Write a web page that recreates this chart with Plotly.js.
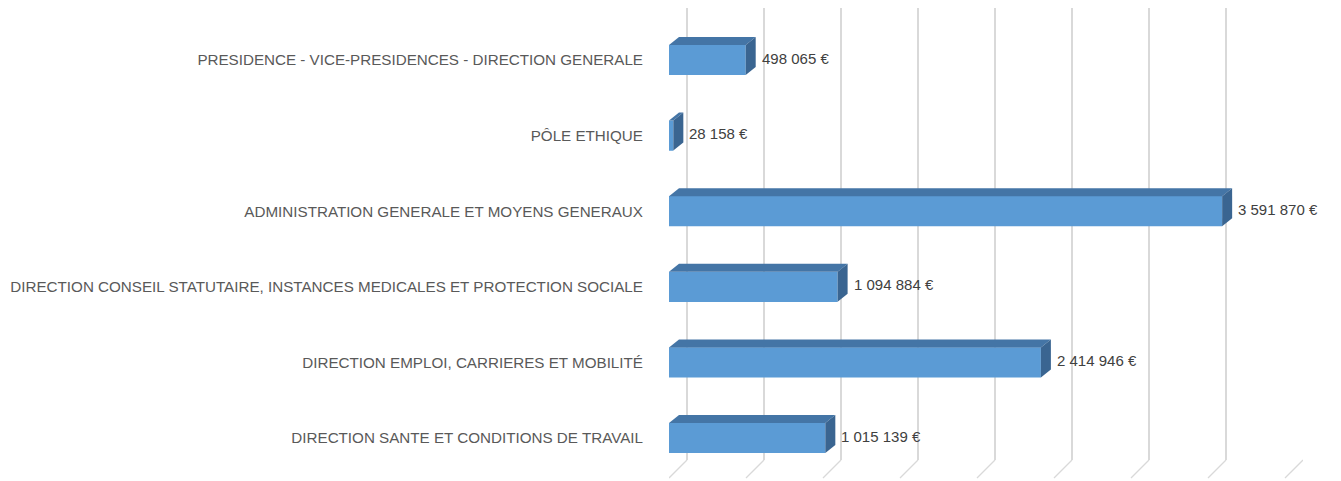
<!DOCTYPE html>
<html><head><meta charset="utf-8">
<script src="https://cdn.plot.ly/plotly-3.0.1.min.js"></script>
<style>body{margin:0;background:#fff}#c{width:1341px;height:481px}</style>
</head><body><div id="c"></div>
<script>
const categories = [
  "DIRECTION SANTE ET CONDITIONS DE TRAVAIL",
  "DIRECTION EMPLOI, CARRIERES ET MOBILITÉ",
  "DIRECTION CONSEIL STATUTAIRE, INSTANCES MEDICALES ET PROTECTION SOCIALE",
  "ADMINISTRATION GENERALE ET MOYENS GENERAUX",
  "PÔLE ETHIQUE",
  "PRESIDENCE - VICE-PRESIDENCES - DIRECTION GENERALE"
];
const values = [1015139, 2414946, 1094884, 3591870, 28158, 498065];
const valueLabels = ["1 015 139 €", "2 414 946 €", "1 094 884 €", "3 591 870 €", "28 158 €", "498 065 €"];
const gridTicks = [0, 500000, 1000000, 1500000, 2000000, 2500000, 3000000, 3500000, 4000000];

const W = 1341, H = 481;
const mL = 669, mR = 38, mT = 8, mB = 3;
const plotW = W - mL - mR, plotH = H - mT - mB;
const depthX = 18, depthY = 18;
const barDX = 10, barDY = 8, halfBar = 15;
const xMax = 4000000;
const frontW = plotW - depthX;
const unitsPerPx = xMax / frontW;

const front = '#5B9BD5', topC = '#4475A6', sideC = '#3A6591';
const gridC = '#D9D9D9';
const labelFont = 'Liberation Sans, Arial, sans-serif';

const shapes = [];
gridTicks.forEach(v => {
  shapes.push({type:'line', xref:'x', xsizemode:'pixel', xanchor: v, x0:0, x1:-depthX,
    yref:'paper', y0: depthY/plotH, y1: 0, line:{color:gridC, width:1.3}, layer:'below'});
});
categories.forEach((c, i) => {
  const v = values[i];
  const dx = barDX * unitsPerPx;
  shapes.push({type:'path', xref:'x2', yref:'y2', ysizemode:'pixel', yanchor:c,
    path:`M0,${halfBar} L${dx},${halfBar+barDY} L${v+dx},${halfBar+barDY} L${v},${halfBar} Z`,
    fillcolor: topC, line:{width:0}, layer:'above'});
  shapes.push({type:'path', xref:'x2', yref:'y2', ysizemode:'pixel', yanchor:c,
    path:`M${v},${halfBar} L${v+dx},${halfBar+barDY} L${v+dx},${-halfBar+barDY} L${v},${-halfBar} Z`,
    fillcolor: sideC, line:{width:0}, layer:'above'});
});

const annotations = categories.map((c, i) => ({
  xref:'x2', yref:'y2', x: values[i], y: c, text: valueLabels[i], showarrow:false,
  xanchor:'left', yanchor:'middle', xshift: barDX + 4, yshift: 2,
  font:{family:labelFont, size:15, color:'#404040'}
}));

const traces = [
  {type:'scatter', x:[0], y:[0], xaxis:'x', yaxis:'y', mode:'markers', marker:{opacity:0}, hoverinfo:'skip', showlegend:false},
  {type:'bar', orientation:'h', x: values, y: categories, xaxis:'x2', yaxis:'y2', width:0.4,
   marker:{color: front, line:{width:0}}, showlegend:false, hoverinfo:'skip'}
];

const step = 75.6, bottomCenter = 438;
const y2bottomPx = bottomCenter + step/2, y2topPx = bottomCenter - 5.5*step;
const y2dom = [(H - mB - y2bottomPx)/plotH, (H - mB - y2topPx)/plotH];

const layout = {
  width: W, height: H,
  margin:{l:mL, r:mR, t:mT, b:mB, pad:0},
  paper_bgcolor:'#fff', plot_bgcolor:'rgba(0,0,0,0)',
  showlegend:false,
  xaxis:{domain:[0, 1], range:[-depthX*unitsPerPx, xMax], tickvals:gridTicks, showgrid:true,
    gridcolor:gridC, gridwidth:1.3, showticklabels:false, zeroline:false,
    showline:false, ticks:'', fixedrange:true},
  yaxis:{domain:[depthY/plotH, 1], range:[0,1], visible:false, fixedrange:true},
  xaxis2:{domain:[0, frontW/plotW], range:[0, xMax], anchor:'y2', showgrid:false, showticklabels:false,
    zeroline:false, showline:false, ticks:''},
  yaxis2:{domain:y2dom, anchor:'x2', type:'category', categoryorder:'array', categoryarray:categories,
    range:[-0.5, 5.5], showgrid:false, zeroline:false, showline:false, ticks:'outside', ticklen:22, tickcolor:'rgba(0,0,0,0)',
    tickfont:{family:labelFont, size:15.2, color:'#595959'}},
  shapes, annotations
};
Plotly.newPlot('c', traces, layout, {displayModeBar:false, staticPlot:true});
</script></body></html>
